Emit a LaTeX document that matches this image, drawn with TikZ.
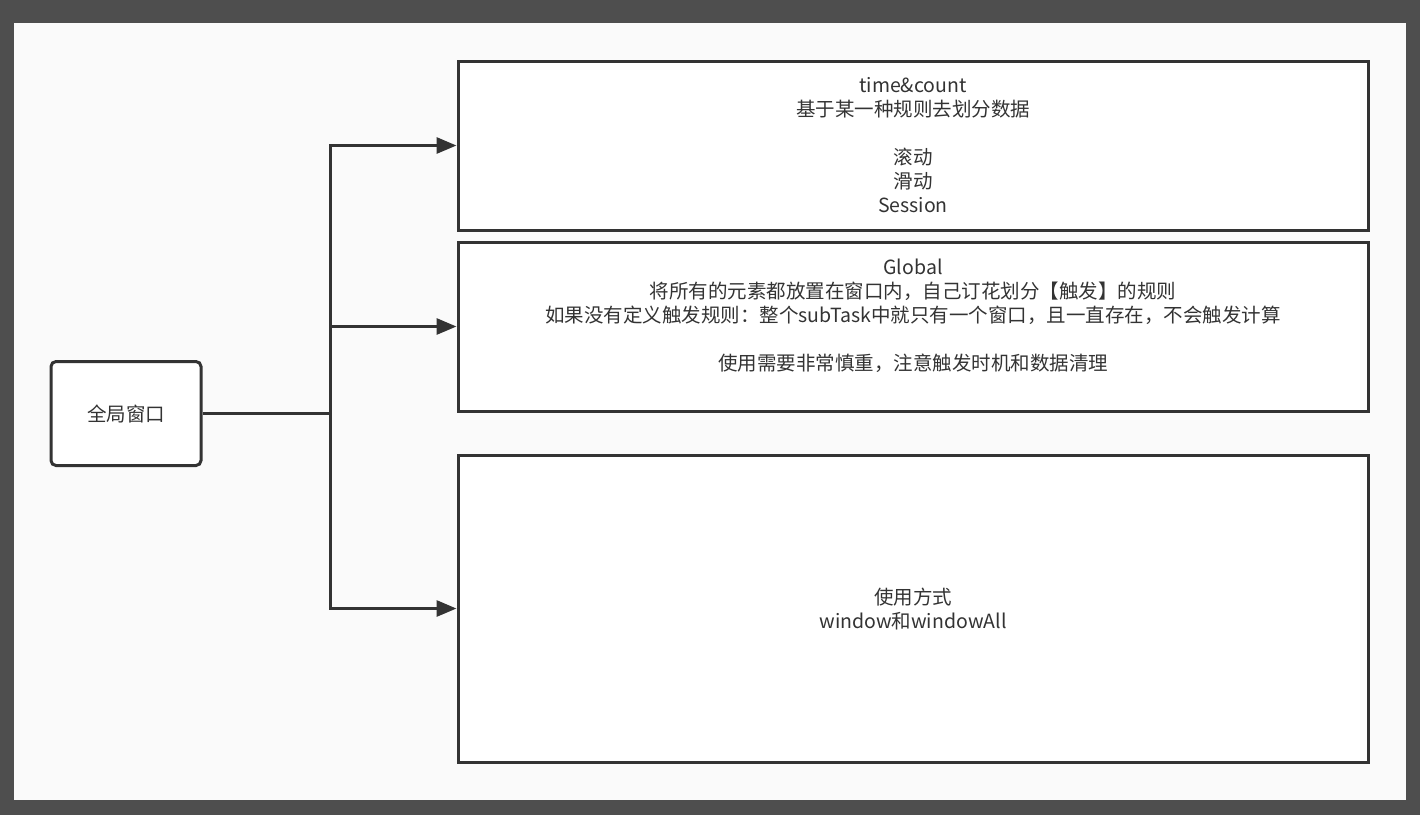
\documentclass[tikz,border=0pt]{standalone}
\usepackage{fontspec}
\usetikzlibrary{arrows.meta}
\newfontfamily\cjk{Noto Sans CJK SC}
\definecolor{frame}{RGB}{78,78,78}
\definecolor{canvas}{RGB}{250,250,250}
\definecolor{ink}{RGB}{51,51,51}

\tikzset{
  winbox/.style={draw=ink, line width=3pt, fill=white, text=ink,
    align=center, inner sep=0pt, minimum width=910pt,
    font=\cjk\fontsize{19.5}{24}\selectfont},
  rootbox/.style={winbox, rounded corners=5pt, minimum width=150pt, minimum height=104pt},
  link/.style={draw=ink, line width=3pt},
  linkarrow/.style={link, -{Triangle[length=20pt,width=16pt]}}
}

\begin{document}
\begin{tikzpicture}[x=1pt,y=-1pt]

% Canvas
\useasboundingbox (0,0) rectangle (1420,815);
\fill[frame] (0,0) rectangle (1420,815);
\fill[canvas] (14,23) rectangle (1406,800);

% Root
\node[rootbox] (global) at (126,413.5) {全局窗口};

% Window kinds
\node[winbox, minimum height=169pt] (keyed) at (913,145.5)
  {time\&count\\基于某一种规则去划分数据\\ \mbox{}\\滚动\\滑动\\Session};
\node[winbox, minimum height=169pt] (globalwin) at (913,326.5)
  {Global\\将所有的元素都放置在窗口内，自己订花划分【触发】的规则\\
   如果没有定义触发规则：整个subTask中就只有一个窗口，且一直存在，不会触发计算\\ \mbox{}\\
   使用需要非常慎重，注意触发时机和数据清理\\ \mbox{}};
\node[winbox, minimum height=307pt] (usage) at (913,608.5)
  {使用方式\\window和windowAll};

% Connectors
\coordinate (split) at (330,413.5);
\draw[link] (global.east) -- (split);
\draw[linkarrow] (split) |- (keyed.west);
\draw[linkarrow] (split) |- (globalwin.west);
\draw[linkarrow] (split) |- (usage.west);

\end{tikzpicture}
\end{document}
